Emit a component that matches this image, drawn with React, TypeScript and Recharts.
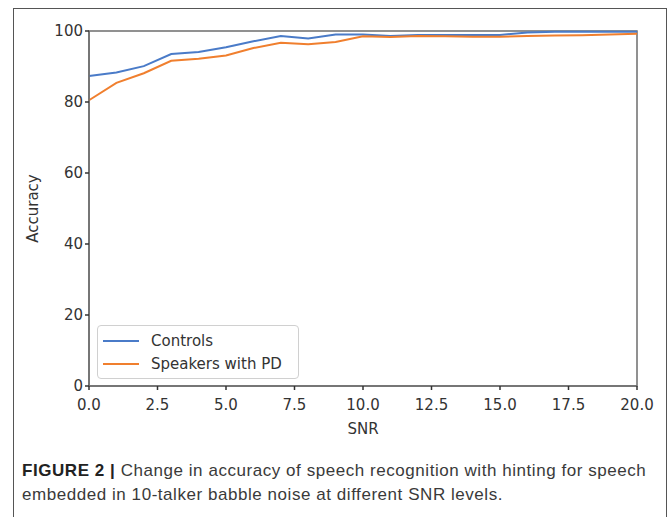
import React from 'react';
import {
  LineChart,
  Line,
  XAxis,
  YAxis,
  ReferenceArea,
  Legend,
} from 'recharts';

const snr = [0, 1, 2, 3, 4, 5, 6, 7, 8, 9, 10, 11, 12, 13, 14, 15, 16, 17, 18, 19, 20];
const controls = [87.3, 88.3, 90.1, 93.5, 94.1, 95.4, 97.1, 98.6, 97.9, 99.0, 99.0, 98.6, 98.9, 98.9, 98.9, 98.9, 99.6, 99.8, 99.8, 99.8, 99.8];
const speakersPD = [80.5, 85.4, 88.1, 91.6, 92.2, 93.1, 95.2, 96.7, 96.3, 96.9, 98.5, 98.3, 98.6, 98.5, 98.4, 98.4, 98.6, 98.7, 98.8, 99.0, 99.2];
const xTicks = [0, 2.5, 5, 7.5, 10, 12.5, 15, 17.5, 20];
const yTicks = [0, 20, 40, 60, 80, 100];

const data = snr.map((s, i) => ({ snr: s, controls: controls[i], pd: speakersPD[i] }));

const AXIS = '#6e6e6e';
const TEXT = '#333333';
const FONT = '"DejaVu Sans", sans-serif';

const LegendBox = (props: any) => {
  const items = props.payload || [];
  return (
    <div
      style={{
        border: '1px solid #d0d0d0',
        borderRadius: 4,
        background: '#fff',
        padding: '3px 0 3px 5px',
        fontFamily: FONT,
        fontSize: 15,
        color: TEXT,
        width: 202,
        boxSizing: 'border-box',
        whiteSpace: 'nowrap',
      }}
    >
      {items.map((it: any) => (
        <div key={it.value} style={{ display: 'flex', alignItems: 'center', height: 23 }}>
          <span style={{ display: 'inline-block', width: 36, height: 2, background: it.color, marginRight: 12 }} />
          <span>{it.value}</span>
        </div>
      ))}
    </div>
  );
};

export default function App() {
  const caption = {
    whiteSpace: 'nowrap' as const,
    height: 24,
  };
  return (
    <div style={{ position: 'absolute', left: 0, top: 0, width: 670, height: 517, background: '#fff', overflow: 'hidden' }}>
      <div
        style={{
          position: 'absolute',
          left: 13,
          top: 8,
          width: 654,
          height: 540,
          border: '1.5px solid #555',
          boxSizing: 'border-box',
        }}
      />
      <div style={{ position: 'absolute', left: 0, top: 0 }}>
        <LineChart width={670} height={450} data={data} margin={{ top: 31, right: 33, left: 29, bottom: 34 }}>
          <XAxis
            dataKey="snr"
            type="number"
            domain={[0, 20]}
            ticks={xTicks}
            tickFormatter={(v: number) => v.toFixed(1)}
            height={30}
            stroke={AXIS}
            strokeWidth={1.5}
            tickSize={4}
            tickMargin={9}
            tick={{ fill: TEXT, fontSize: 15, fontFamily: FONT }}
            tickLine={{ stroke: TEXT }}
            label={{ value: 'SNR', position: 'bottom', offset: 7, fill: TEXT, fontSize: 15, fontFamily: FONT }}
          />
          <YAxis
            type="number"
            domain={[0, 100]}
            ticks={yTicks}
            width={60}
            stroke={AXIS}
            strokeWidth={1.5}
            tickSize={4}
            tick={{ fill: TEXT, fontSize: 15, fontFamily: FONT }}
            tickLine={{ stroke: TEXT }}
            label={{ value: 'Accuracy', angle: -90, position: 'center', dx: -26, fill: TEXT, fontSize: 15, fontFamily: FONT }}
          />
          <ReferenceArea x1={0} x2={20} y1={0} y2={100} fill="none" stroke={AXIS} strokeWidth={1.5} ifOverflow="visible" />
          <Line
            type="linear"
            dataKey="controls"
            name="Controls"
            stroke="#4a7bc8"
            strokeWidth={2}
            dot={false}
            isAnimationActive={false}
          />
          <Line
            type="linear"
            dataKey="pd"
            name="Speakers with PD"
            stroke="#f07f2e"
            strokeWidth={2}
            dot={false}
            isAnimationActive={false}
          />
          <Legend
            layout="vertical"
            verticalAlign="middle"
            align="center"
            content={<LegendBox />}
            wrapperStyle={{ left: 97, top: 325, width: 202 }}
          />
        </LineChart>
      </div>
      <div
        style={{
          position: 'absolute',
          left: 22,
          top: 459,
          fontFamily: '"Liberation Sans", Arial, sans-serif',
          fontSize: 17,
          letterSpacing: 0.55,
          lineHeight: '24px',
          color: '#3a3a3a',
        }}
      >
        <div style={caption}>
          <span style={{ fontWeight: 700, color: '#222' }}>FIGURE 2 | </span>
          Change in accuracy of speech recognition with hinting for speech
        </div>
        <div style={caption}>embedded in 10-talker babble noise at different SNR levels.</div>
      </div>
    </div>
  );
}
